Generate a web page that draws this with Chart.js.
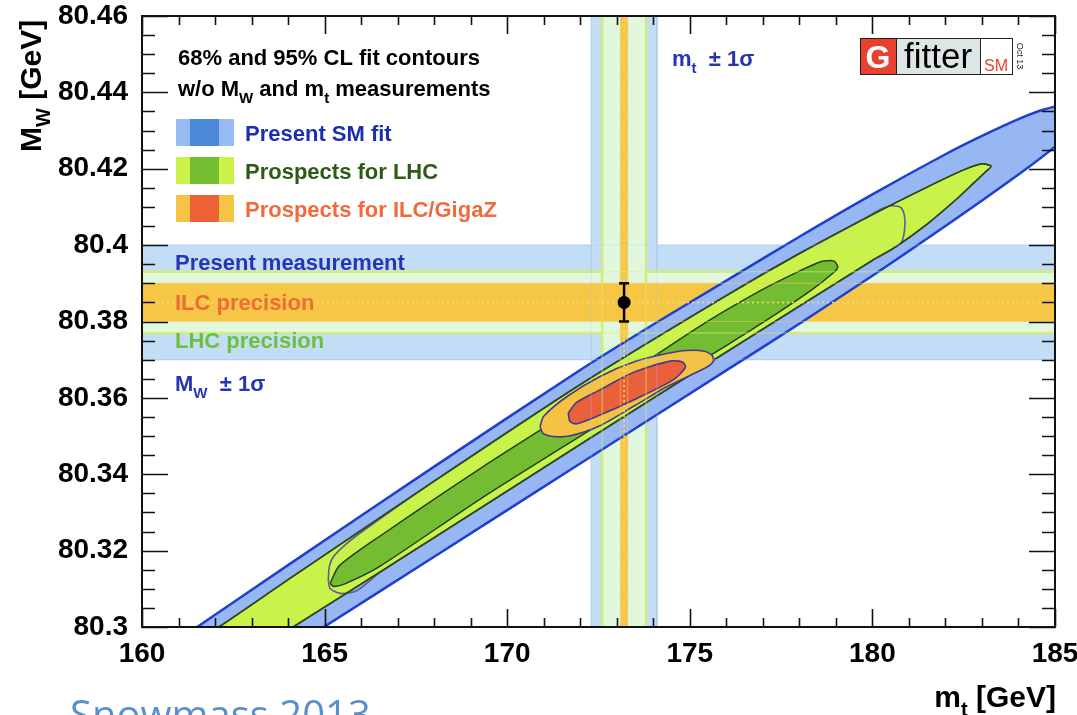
<!DOCTYPE html>
<html>
<head>
<meta charset="utf-8">
<script src="https://cdn.jsdelivr.net/npm/chart.js@4.4.1/dist/chart.umd.min.js"></script>
<style>
  html, body { margin: 0; padding: 0; background: #fff; }
  #wrap { width: 1077px; height: 715px; }
</style>
</head>
<body>
<div id="wrap"><canvas id="fit_chart" width="1077" height="715"></canvas></div>
<script>
// axes
const xMin = 160, xMax = 185;
const yMin = 80.3, yMax = 80.46;
const xTickLabels = ["160", "165", "170", "175", "180", "185"];
const yTickLabels = ["80.3", "80.32", "80.34", "80.36", "80.38", "80.4", "80.42", "80.44", "80.46"];

// measurements: central value and 1 sigma for present / LHC / ILC
const mtCentral = 173.2;
const mtSigma = [0.9, 0.6, 0.1];
const mwCentral = 80.385;
const mwSigma = [0.015, 0.008, 0.005];

// fit contours, [mt, MW]
const smFit95 = [
  [161.0, 80.2967], [161.51, 80.300], [164.0, 80.3162], [168.0, 80.342], [172.0, 80.3673],
  [174.0, 80.3792], [176.0, 80.3907], [178.0, 80.4022], [180.0, 80.4133], [182.0, 80.4238],
  [183.0, 80.4286], [184.0, 80.433], [184.7, 80.4355], [185.3, 80.4368], [185.8, 80.436],
  [185.95, 80.434], [185.6, 80.431], [185.0, 80.4258], [184.0, 80.4185], [182.0, 80.405],
  [180.0, 80.392], [178.0, 80.3794], [176.0, 80.3672], [172.0, 80.3428], [168.0, 80.3184],
  [164.98, 80.300], [164.5, 80.2971],
];
const smFit68 = [
  [165.1, 80.3123], [165.13, 80.3158], [165.24, 80.3184], [165.61, 80.3219], [166.06, 80.3252],
  [168.0, 80.3382], [172.0, 80.3635], [176.0, 80.3868], [178.0, 80.3978], [179.6, 80.406],
  [180.3, 80.4097], [180.55, 80.4103], [180.78, 80.4098], [180.88, 80.4075], [180.88, 80.404],
  [180.78, 80.4005], [180.0, 80.396], [178.0, 80.384], [176.0, 80.372], [172.0, 80.3478],
  [168.0, 80.3234], [166.52, 80.3143], [165.88, 80.3095], [165.42, 80.3088], [165.15, 80.3101],
];
const lhc95 = [
  [161.7, 80.298], [162.1, 80.300], [164.0, 80.3124], [168.0, 80.3382], [172.0, 80.3635],
  [176.0, 80.3868], [178.0, 80.3978], [180.0, 80.408], [181.5, 80.4152], [182.5, 80.4197],
  [183.0, 80.4213], [183.25, 80.4207], [183.1, 80.4192], [182.8, 80.4165], [182.3, 80.412],
  [181.5, 80.4055], [180.66, 80.3997], [180.0, 80.396], [178.0, 80.384], [176.0, 80.372],
  [172.0, 80.3478], [168.0, 80.3234], [164.14, 80.300], [163.7, 80.2973],
];
const lhc68 = [
  [165.15, 80.3114], [165.4, 80.316], [166.5, 80.3237], [169.26, 80.3415], [172.54, 80.3615],
  [175.28, 80.3788], [176.92, 80.388], [177.83, 80.3924], [178.6, 80.3957], [178.95, 80.3958],
  [179.05, 80.3942], [178.9, 80.3925], [178.3, 80.388], [177.4, 80.3822], [176.0, 80.3737],
  [174.0, 80.362], [172.54, 80.3532], [169.26, 80.3335], [166.5, 80.3158], [165.6, 80.3115],
  [165.25, 80.3106],
];
const ilc95 = [
  [170.9, 80.3525], [171.0, 80.3552], [171.63, 80.3603], [172.54, 80.3656], [173.5, 80.3695],
  [174.37, 80.3716], [174.91, 80.3724], [175.4, 80.3722], [175.62, 80.371], [175.64, 80.3695],
  [175.46, 80.368], [174.37, 80.3629], [173.5, 80.358], [172.54, 80.3527], [171.7, 80.35],
  [171.26, 80.3499], [170.98, 80.3507],
];
const ilc68 = [
  [171.67, 80.356], [171.9, 80.3588], [172.54, 80.3621], [173.3, 80.366], [173.91, 80.3682],
  [174.5, 80.3697], [174.8, 80.3694], [174.88, 80.368], [174.55, 80.3647], [173.45, 80.3594],
  [172.54, 80.3555], [171.9, 80.3532], [171.72, 80.3538],
];

const FONT = "'Liberation Sans', Arial, Helvetica, sans-serif";

function toXY(points) {
  return points.map(function (p) {
    return { x: p[0], y: p[1] };
  });
}

function contour(points, fillColor, lineColor, lineWidth, order) {
  return {
    data: toXY(points.concat([points[0]])),
    showLine: true,
    fill: fillColor ? "shape" : false,
    backgroundColor: fillColor || "rgba(0,0,0,0)",
    borderColor: lineColor,
    borderWidth: lineWidth,
    pointRadius: 0,
    tension: 0.25,
    order: order,
  };
}

function band(points, fillColor, lineColor, lineWidth, order) {
  return {
    data: toXY(points),
    showLine: true,
    fill: "shape",
    backgroundColor: fillColor,
    borderColor: lineColor,
    borderWidth: lineWidth,
    pointRadius: 0,
    tension: 0,
    order: order,
  };
}

function hBand(sigma, fillColor, lineColor, lineWidth, order) {
  const lo = mwCentral - sigma, hi = mwCentral + sigma;
  return band([[xMin - 1, lo], [xMax + 1, lo], [xMax + 1, hi], [xMin - 1, hi], [xMin - 1, lo]],
    fillColor, lineColor, lineWidth, order);
}

function vBand(sigma, fillColor, lineColor, lineWidth, order) {
  const lo = mtCentral - sigma, hi = mtCentral + sigma;
  return band([[lo, yMin - 0.01], [lo, yMax + 0.01], [hi, yMax + 0.01], [hi, yMin - 0.01], [lo, yMin - 0.01]],
    fillColor, lineColor, lineWidth, order);
}

// faint band edges that show through the contours
function edges(sigmaW, sigmaT, color, width, order) {
  const segs = [
    [[xMin, mwCentral - sigmaW], [xMax, mwCentral - sigmaW]],
    [[xMin, mwCentral + sigmaW], [xMax, mwCentral + sigmaW]],
    [[mtCentral - sigmaT, yMin], [mtCentral - sigmaT, yMax]],
    [[mtCentral + sigmaT, yMin], [mtCentral + sigmaT, yMax]],
  ];
  return segs.map(function (s) {
    return {
      data: toXY(s),
      showLine: true,
      borderColor: color,
      borderWidth: width,
      pointRadius: 0,
      order: order,
    };
  });
}

const datasets = [
  // bands (higher order = drawn earlier)
  hBand(mwSigma[0], "#c4ddf6", "#b2cff0", 1, 30),
  vBand(mtSigma[0], "#c4ddf6", "#b2cff0", 1, 29),
  hBand(mwSigma[1], "#e1f8df", "#cfee7c", 2.5, 28),
  vBand(mtSigma[1], "#e1f8df", "#cfee7c", 2.5, 27),
  hBand(mwSigma[2], "#f6c646", "rgba(0,0,0,0)", 0, 26),
  vBand(mtSigma[2], "#f6c646", "rgba(0,0,0,0)", 0, 25),
  // fit contours
  contour(smFit95, "#97b6f4", "#1f3fcf", 2.5, 20),
  contour(lhc95, "#c9f24a", "#2b4a1b", 1.5, 19),
  contour(smFit68, null, "#5c5c94", 1.6, 18),
  contour(lhc95, null, "#2b4a1b", 1.5, 17),
  contour(lhc68, "#74bd32", "#22401a", 1.5, 16),
  contour(ilc95, "#f6c244", "#443a8c", 1.6, 15),
  contour(ilc68, "#e9603a", "#443a8c", 1.6, 14),
]
  .concat(edges(mwSigma[0], mtSigma[0], "rgba(170,200,240,0.35)", 1, 8))
  .concat(edges(mwSigma[1], mtSigma[1], "rgba(215,240,110,0.45)", 1.5, 7))
  .concat(edges(mwSigma[2], mtSigma[2], "rgba(246,200,80,0.45)", 1.2, 6))
  .concat([
    // central value lines
    {
      data: toXY([[xMin, mwCentral], [xMax, mwCentral]]),
      showLine: true,
      borderColor: "#f3e079",
      borderWidth: 1.5,
      borderDash: [2, 3],
      pointRadius: 0,
      order: 5,
    },
    {
      data: toXY([[mtCentral, yMin], [mtCentral, yMax]]),
      showLine: true,
      borderColor: "#f3e079",
      borderWidth: 1.5,
      borderDash: [2, 3],
      pointRadius: 0,
      order: 4,
    },
    // point with error bar
    {
      data: toXY([[mtCentral, mwCentral - mwSigma[2]], [mtCentral, mwCentral + mwSigma[2]]]),
      showLine: true,
      borderColor: "#000",
      borderWidth: 2.5,
      pointStyle: "line",
      pointRadius: 5,
      pointBorderColor: "#000",
      pointBorderWidth: 2.5,
      order: 1,
    },
    {
      data: toXY([[mtCentral, mwCentral]]),
      pointRadius: 6.5,
      pointBackgroundColor: "#000",
      pointBorderColor: "#000",
      pointBorderWidth: 0,
      order: 0,
    },
  ]);

// sub-scripted text; parts starting with "_" are subscripts
function richText(ctx, parts, x, y, size, color) {
  ctx.fillStyle = color;
  ctx.textBaseline = "alphabetic";
  ctx.textAlign = "left";
  var cx = x;
  parts.forEach(function (p) {
    var sub = p[0] === "_";
    var t = sub ? p.slice(1) : p;
    ctx.font = "bold " + (sub ? Math.round(size * 0.68) : size) + "px " + FONT;
    ctx.fillText(t, cx, sub ? y + size * 0.3 : y);
    cx += ctx.measureText(t).width;
  });
  return cx - x;
}

function richWidth(ctx, parts, size) {
  var w = 0;
  parts.forEach(function (p) {
    var sub = p[0] === "_";
    var t = sub ? p.slice(1) : p;
    ctx.font = "bold " + (sub ? Math.round(size * 0.68) : size) + "px " + FONT;
    w += ctx.measureText(t).width;
  });
  return w;
}

const frameTicks = {
  id: "frameTicks",
  afterDatasetsDraw(chart) {
    const { ctx, chartArea: a } = chart;
    const xs = chart.scales.x, ys = chart.scales.y;
    ctx.save();
    ctx.strokeStyle = "#111";
    ctx.lineWidth = 1.6;
    ctx.beginPath();
    for (let i = 0; i <= 25; i++) {
      const px = Math.round(xs.getPixelForValue(xMin + i)) + 0.5;
      const len = i % 5 === 0 ? 18 : 9;
      ctx.moveTo(px, a.bottom);
      ctx.lineTo(px, a.bottom - len);
      ctx.moveTo(px, a.top);
      ctx.lineTo(px, a.top + len);
    }
    for (let i = 0; i <= 32; i++) {
      const py = Math.round(ys.getPixelForValue(yMin + i * 0.005)) + 0.5;
      const len = i % 4 === 0 ? 26 : 13;
      ctx.moveTo(a.left, py);
      ctx.lineTo(a.left + len, py);
      ctx.moveTo(a.right, py);
      ctx.lineTo(a.right - len, py);
    }
    ctx.stroke();
    ctx.lineWidth = 2;
    ctx.strokeRect(a.left, a.top, a.right - a.left, a.bottom - a.top);
    ctx.restore();
  },
};

const annotations = {
  id: "annotations",
  afterDraw(chart) {
    const ctx = chart.ctx;
    ctx.save();

    // axis titles
    ctx.save();
    ctx.translate(41, 152);
    ctx.rotate(-Math.PI / 2);
    richText(ctx, ["M", "_W", " [GeV]"], 0, 0, 30, "#000");
    ctx.restore();
    const xt = ["m", "_t", " [GeV]"];
    richText(ctx, xt, 1056 - richWidth(ctx, xt, 30), 707, 30, "#000");

    // header
    richText(ctx, ["68% and 95% CL fit contours"], 178, 65, 22, "#000");
    richText(ctx, ["w/o M", "_W", " and m", "_t", " measurements"], 178, 96, 22, "#000");

    // legend swatches
    const swatches = [
      ["#98baf2", "#4a88da", 119, "Present SM fit", "#1c2fae"],
      ["#ccf24a", "#72be30", 157, "Prospects for LHC", "#2d5a14"],
      ["#f6c545", "#ec6236", 195, "Prospects for ILC/GigaZ", "#f26a3b"],
    ];
    swatches.forEach(function (s) {
      ctx.fillStyle = s[0];
      ctx.fillRect(176, s[2], 58, 27);
      ctx.fillStyle = s[1];
      ctx.fillRect(190, s[2], 29, 27);
      richText(ctx, [s[3]], 245, s[2] + 22, 22, s[4]);
    });

    // band labels
    richText(ctx, ["Present measurement"], 175, 270, 22, "#2535b5");
    richText(ctx, ["ILC precision"], 175, 310, 22, "#f06b35");
    richText(ctx, ["LHC precision"], 175, 348, 22, "#6cc13a");
    richText(ctx, ["M", "_W", "  \u00b1 1\u03c3"], 175, 391, 22, "#2535b5");
    richText(ctx, ["m", "_t", "  \u00b1 1\u03c3"], 672, 66, 22, "#2535b5");

    // Gfitter logo
    ctx.lineWidth = 1;
    ctx.strokeStyle = "#222";
    ctx.fillStyle = "#e8412f";
    ctx.fillRect(860, 38, 36, 36);
    ctx.strokeRect(860.5, 38.5, 36, 36);
    ctx.fillStyle = "#dce6e6";
    ctx.fillRect(896, 38, 84, 36);
    ctx.strokeRect(896.5, 38.5, 84, 36);
    ctx.fillStyle = "#fff";
    ctx.fillRect(980, 38, 32, 36);
    ctx.strokeRect(980.5, 38.5, 32, 36);
    ctx.textBaseline = "alphabetic";
    ctx.textAlign = "center";
    ctx.fillStyle = "#fff";
    ctx.font = "bold 32px " + FONT;
    ctx.fillText("G", 878, 68);
    ctx.fillStyle = "#000";
    ctx.font = "35px " + FONT;
    ctx.fillText("fitter", 938, 68);
    ctx.fillStyle = "#e8412f";
    ctx.font = "16px " + FONT;
    ctx.fillText("SM", 996, 71);
    ctx.save();
    ctx.translate(1017, 56);
    ctx.rotate(Math.PI / 2);
    ctx.fillStyle = "#222";
    ctx.font = "9px " + FONT;
    ctx.fillText("Oct 13", 0, 0);
    ctx.restore();

    // slide footer
    ctx.textAlign = "left";
    ctx.fillStyle = "#5b8fcb";
    ctx.font = "40px 'Open Sans', 'Noto Sans', sans-serif";
    ctx.fillText("Snowmass 2013", 70, 729);

    ctx.restore();
  },
};

function tickLabel(labels) {
  return function (value) {
    const hit = labels.find(function (l) {
      return Math.abs(Number(l) - value) < 1e-6;
    });
    return hit || "";
  };
}

const ctx = document.getElementById("fit_chart").getContext("2d");
const fitChart = new Chart(ctx, {
  type: "scatter",
  data: { datasets: datasets },
  plugins: [frameTicks, annotations],
  options: {
    responsive: false,
    maintainAspectRatio: false,
    devicePixelRatio: 1,
    animation: false,
    events: [],
    layout: { padding: { left: 0, right: 22, top: 16, bottom: 0 } },
    elements: { line: { capBezierPoints: false } },
    plugins: {
      legend: { display: false },
      tooltip: { enabled: false },
    },
    scales: {
      x: {
        type: "linear",
        min: xMin,
        max: xMax,
        afterBuildTicks: function (scale) {
          scale.ticks = xTickLabels.map(function (l) {
            return { value: Number(l) };
          });
        },
        afterFit: function (scale) {
          scale.height = 88;
          scale.paddingLeft = 0;
          scale.paddingRight = 0;
        },
        grid: { display: false, drawTicks: false },
        border: { display: false },
        ticks: {
          callback: tickLabel(xTickLabels),
          padding: 10,
          maxRotation: 0,
          autoSkip: false,
          color: "#000",
          font: { family: FONT, size: 28, weight: "bold" },
        },
      },
      y: {
        type: "linear",
        min: yMin,
        max: yMax,
        afterBuildTicks: function (scale) {
          scale.ticks = yTickLabels.map(function (l) {
            return { value: Number(l) };
          });
        },
        afterFit: function (scale) {
          scale.width = 142;
          scale.paddingTop = 0;
          scale.paddingBottom = 0;
        },
        grid: { display: false, drawTicks: false },
        border: { display: false },
        ticks: {
          callback: tickLabel(yTickLabels),
          padding: 14,
          autoSkip: false,
          color: "#000",
          font: { family: FONT, size: 28, weight: "bold" },
        },
      },
    },
  },
});
</script>
</body>
</html>
